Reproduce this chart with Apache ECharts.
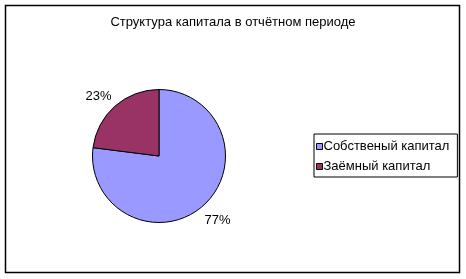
<!DOCTYPE html>
<html>
<head>
<meta charset="utf-8">
<script src="https://cdn.jsdelivr.net/npm/echarts@6/dist/echarts.min.js"></script>
<style>html,body{margin:0;padding:0;background:#fff;}#c{width:466px;height:279px;}</style>
</head>
<body>
<div id="c"></div>
<script>
const titleText = 'Структура капитала в отчётном периоде';
const categories = ['Собственый капитал', 'Заёмный капитал'];
const values = [77, 23];
const colors = ['#9999FF', '#993366'];

const chart = echarts.init(document.getElementById('c'), null, {renderer: 'canvas'});
const font = '"Liberation Sans", Arial, sans-serif';
const labelTweaks = [
  {line: 19, dist: -11},
  {line: 13.5, dist: -5.5}
];
chart.setOption({
  animation: false,
  backgroundColor: '#ffffff',
  title: {
    text: titleText,
    left: 'center',
    top: 16,
    padding: 0,
    textStyle: {fontFamily: font, fontSize: 13, fontWeight: 'normal', color: '#000'}
  },
  graphic: [{
    type: 'rect',
    shape: {x: 5.5, y: 5.5, width: 454, height: 267},
    style: {fill: 'none', stroke: '#000', lineWidth: 1.5},
    silent: true
  }],
  legend: {
    orient: 'vertical',
    left: 314,
    top: 134,
    padding: [5, 8, 3, 2],
    borderColor: '#000',
    borderWidth: 1,
    itemWidth: 6,
    itemHeight: 6,
    itemGap: 5,
    icon: 'rect',
    itemStyle: {borderColor: '#000', borderWidth: 1},
    textStyle: {fontFamily: font, fontSize: 13, color: '#000', lineHeight: 15, padding: [0, 0, 0, -4]},
    data: categories
  },
  series: [{
    type: 'pie',
    center: [159, 156],
    radius: [0, 66.5],
    startAngle: 90,
    clockwise: true,
    avoidLabelOverlap: false,
    itemStyle: {borderColor: '#000', borderWidth: 1},
    label: {
      show: true,
      position: 'outside',
      formatter: '{d}%',
      fontFamily: font,
      fontSize: 13,
      color: '#000'
    },
    labelLine: {show: false, length2: 0},
    data: categories.map((n, i) => ({
      name: n,
      value: values[i],
      itemStyle: {color: colors[i]},
      label: {distanceToLabelLine: labelTweaks[i].dist},
      labelLine: {show: false, length: labelTweaks[i].line, length2: 0}
    }))
  }]
});
</script>
</body>
</html>
